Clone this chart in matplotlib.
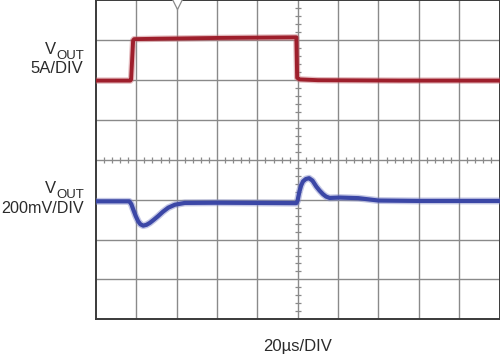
import matplotlib
matplotlib.use("Agg")
import matplotlib.pyplot as plt

plt.rcParams["font.family"] = ["Liberation Sans", "DejaVu Sans"]

# scope settings
t_per_div = 20.0      # us/DIV
amp_per_div = 5.0     # A/DIV
mv_per_div = 200.0    # mV/DIV
amp_zero_div = 6.0    # screen division of the 0 A reference
mv_zero_div = 3.0     # screen division of the 0 mV reference

# upper trace (load current step), time in us, current in A
i_time = [0, 17.0, 17.4, 18.4, 18.9, 30, 60, 99.3, 99.7, 101, 110, 150, 200]
i_amps = [-0.05, -0.05, 0.1, 5.0, 5.15, 5.2, 5.3, 5.38, 0.3, 0.1, 0.0, -0.05, -0.05]

# lower trace (output voltage deviation), time in us, voltage in mV
v_time = [0, 16.5, 17.5, 18.5, 19.7, 20.9, 22.0, 23.4, 25.0, 26.7, 28.7, 30.7,
          33.2, 35.8, 39.1, 44, 60, 99.3,
          99.9, 100.8, 101.7, 102.6, 104.0, 105.6, 107.3, 109.2, 110.8, 112.5,
          114.0, 115.8, 120.8, 130, 140, 160, 200]
v_mv = [-8, -8, -22, -50, -82, -108, -123, -130, -126, -116, -100, -83,
        -60, -40, -25, -16, -15, -17,
        -5, 40, 72, 92, 104, 108, 96, 66, 46, 28,
        16, 9, 11, 8, -4, -6, -6]

trig_time = 40.0

fig = plt.figure(figsize=(5.0, 3.55), dpi=100)
ax = fig.add_axes([0.192, 0.1006, 0.807, 0.898])
ax.set_xlim(0, 10 * t_per_div)
ax.set_ylim(0, 8)

grid_col = "#8a8a8a"
for k in range(1, 10):
    ax.axvline(k * t_per_div, color=grid_col, lw=1.0, zorder=1)
for k in range(1, 8):
    ax.axhline(k, color=grid_col, lw=1.0, zorder=1)

# minor ticks on centre axes
xs = [j * t_per_div / 5 for j in range(1, 50) if j % 5]
ys = [j / 5 for j in range(1, 40) if j % 5]
ax.plot(xs, [4] * len(xs), ls="none", marker="|", ms=4.5, mew=0.9, color=grid_col, zorder=1)
ax.plot([5 * t_per_div] * len(ys), ys, ls="none", marker="_", ms=4.5, mew=0.9, color=grid_col, zorder=1)

iy = [amp_zero_div + a / amp_per_div for a in i_amps]
vy = [mv_zero_div + v / mv_per_div for v in v_mv]

ax.plot(i_time, iy, color="#c46a72", lw=4.6, alpha=0.45, solid_joinstyle="round", zorder=3)
ax.plot(i_time, iy, color="#9e1f2c", lw=2.8, solid_joinstyle="round", zorder=4)
ax.plot(v_time, vy, color="#7c84c6", lw=5.0, alpha=0.45, solid_joinstyle="round", zorder=3)
ax.plot(v_time, vy, color="#3b47a6", lw=3.0, solid_joinstyle="round", zorder=4)

ax.plot([trig_time], [7.93], marker="v", ms=8, mfc="white", mec=grid_col, mew=0.9,
        clip_on=False, zorder=5)

ax.set_xticks([])
ax.set_yticks([])
for s in ax.spines.values():
    s.set_color("#3a3a3a")
    s.set_linewidth(1.4)

W, H = 500.0, 355.0
txt = "#2b2b2b"


def put(x, y, s, ha, fs=12):
    fig.text(x / W, 1 - y / H, s, ha=ha, va="baseline", fontsize=fs, color=txt)


put(56, 54.3, "V", "right")
put(56, 59, "OUT", "left", 9.5)
put(83, 73.3, "5A/DIV", "right")
put(56, 193.3, "V", "right")
put(56, 198.3, "OUT", "left", 9.5)
put(83.5, 213.3, "200mV/DIV", "right", 11.6)
put(298, 351, "20\u00b5s/DIV", "center")

fig.savefig("out.png", dpi=100)
